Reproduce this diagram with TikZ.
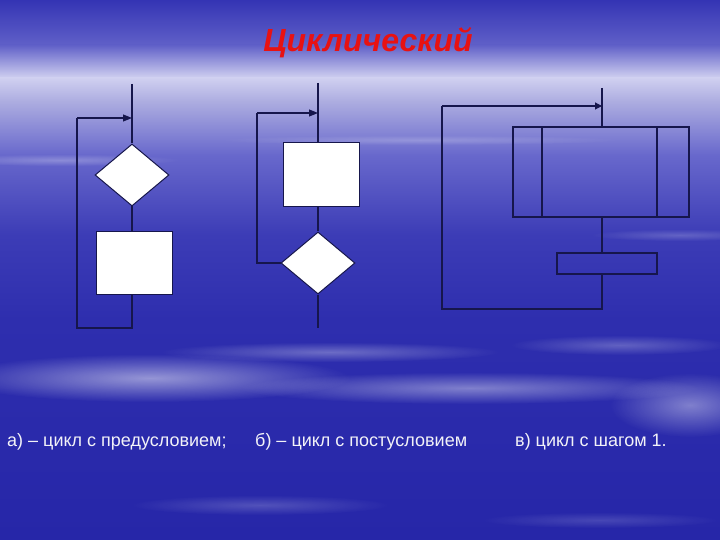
\documentclass[tikz,border=0pt]{standalone}
\usepackage{fontspec}
\setmainfont{Liberation Sans}
\usetikzlibrary{shapes.geometric,arrows.meta,fadings}
\tikzfading[name=softfade, inner color=transparent!0, outer color=transparent!100]
\definecolor{ln}{HTML}{16164C}
\definecolor{ttl}{HTML}{E81212}
\definecolor{lbl}{HTML}{F2F2F8}
\tikzset{
  conn/.style={draw=ln, line width=1.1pt},
  arr/.style={conn, -{Triangle[length=9pt,width=7pt]}},
  dia/.style={diamond, draw=ln, fill=white, line width=1pt, inner sep=0pt, minimum width=74pt, minimum height=62pt},
  blk/.style={rectangle, draw=ln, fill=white, line width=1pt, inner sep=0pt},
  hollow/.style={rectangle, draw=ln, line width=1.1pt, inner sep=0pt},
  caption/.style={anchor=base west, text=lbl, font=\fontsize{18}{20}\selectfont, inner sep=0pt},
  cloud/.style={fill=white, path fading=softfade}
}
\begin{document}
\begin{tikzpicture}[x=1pt,y=-1pt]
\useasboundingbox (0,0) rectangle (720,540);
% background
\shade[top color={rgb,255:red,52;green,52;blue,180}, bottom color={rgb,255:red,96;green,96;blue,200}] (0,0) rectangle (720,45);
\shade[top color={rgb,255:red,96;green,96;blue,200}, bottom color={rgb,255:red,208;green,208;blue,240}] (0,45) rectangle (720,78);
\shade[top color={rgb,255:red,208;green,208;blue,240}, bottom color={rgb,255:red,172;green,172;blue,224}] (0,78) rectangle (720,102);
\shade[top color={rgb,255:red,172;green,172;blue,224}, bottom color={rgb,255:red,104;green,104;blue,204}] (0,102) rectangle (720,155);
\shade[top color={rgb,255:red,104;green,104;blue,204}, bottom color={rgb,255:red,60;green,60;blue,182}] (0,155) rectangle (720,235);
\shade[top color={rgb,255:red,60;green,60;blue,182}, bottom color={rgb,255:red,46;green,46;blue,174}] (0,235) rectangle (720,320);
\shade[top color={rgb,255:red,46;green,46;blue,174}, bottom color={rgb,255:red,38;green,38;blue,168}] (0,320) rectangle (720,540);
% clouds
\fill[cloud, opacity=0.5] (150,378) ellipse (200 and 24);
\fill[cloud, opacity=0.3] (330,352) ellipse (170 and 10);
\fill[cloud, opacity=0.4] (470,388) ellipse (230 and 16);
\fill[cloud, opacity=0.4] (690,405) ellipse (80 and 32);
\fill[cloud, opacity=0.25] (620,345) ellipse (110 and 10);
\fill[cloud, opacity=0.2] (260,505) ellipse (130 and 10);
\fill[cloud, opacity=0.15] (600,520) ellipse (120 and 8);
\fill[cloud, opacity=0.25] (60,160) ellipse (120 and 6);
\fill[cloud, opacity=0.2] (420,140) ellipse (200 and 5);
\fill[cloud, opacity=0.2] (680,235) ellipse (90 and 6);
% title
\node[text=ttl, font=\fontsize{32}{34}\selectfont\bfseries\itshape] (title) at (368,43) {Циклический};
% diagram a
\coordinate (a0) at (132,84);
\coordinate (aj) at (132,118);
\node[dia] (ad) at (132,175) {};
\node[blk, minimum width=76pt, minimum height=63pt] (ar) at (134,263) {};
\coordinate (ab) at (132,328);
\coordinate (abl) at (77,328);
\coordinate (atl) at (77,118);
\draw[conn] (a0) -- (ad.north);
\draw[conn] (ad.south) -- (ad.south |- ar.north);
\draw[conn] (ad.south |- ar.south) -- (ab) -- (abl) -- (atl);
\draw[arr] (atl) -- (aj);
% diagram b
\coordinate (b0) at (318,83);
\coordinate (bj) at (318,113);
\node[blk, minimum width=76pt, minimum height=64pt] (br) at (321,175) {};
\node[dia] (bd) at (318,263) {};
\coordinate (bb) at (318,328);
\coordinate (bll) at (257,263);
\coordinate (btl) at (257,113);
\draw[conn] (b0) -- (b0 |- br.north);
\draw[conn] (b0 |- br.south) -- (bd.north);
\draw[conn] (bd.south) -- (bb);
\draw[conn] (bd.west) -- (bll) -- (btl);
\draw[arr] (btl) -- (bj);
% diagram c
\coordinate (c0) at (602,88);
\coordinate (cj) at (602,106);
\node[hollow, minimum width=176pt, minimum height=90pt] (cbig) at (601,172) {};
\node[hollow, minimum width=100pt, minimum height=21pt] (csm) at (607,263.5) {};
\coordinate (cb) at (602,309);
\coordinate (cbl) at (442,309);
\coordinate (ctl) at (442,106);
\draw[conn] (542,127) -- (542,217);
\draw[conn] (657,127) -- (657,217);
\draw[conn] (c0) -- (c0 |- cbig.north);
\draw[conn] (c0 |- cbig.south) -- (c0 |- csm.north);
\draw[conn] (c0 |- csm.south) -- (cb) -- (cbl) -- (ctl);
\draw[conn, -{Triangle[length=7pt,width=7pt]}] (ctl) -- (cj);
% captions
\node[caption] (la) at (7,446) {а) – цикл с предусловием;};
\node[caption] (lb) at (255,446) {б) – цикл с постусловием};
\node[caption] (lc) at (515,446) {в) цикл с шагом 1.};
\end{tikzpicture}
\end{document}
